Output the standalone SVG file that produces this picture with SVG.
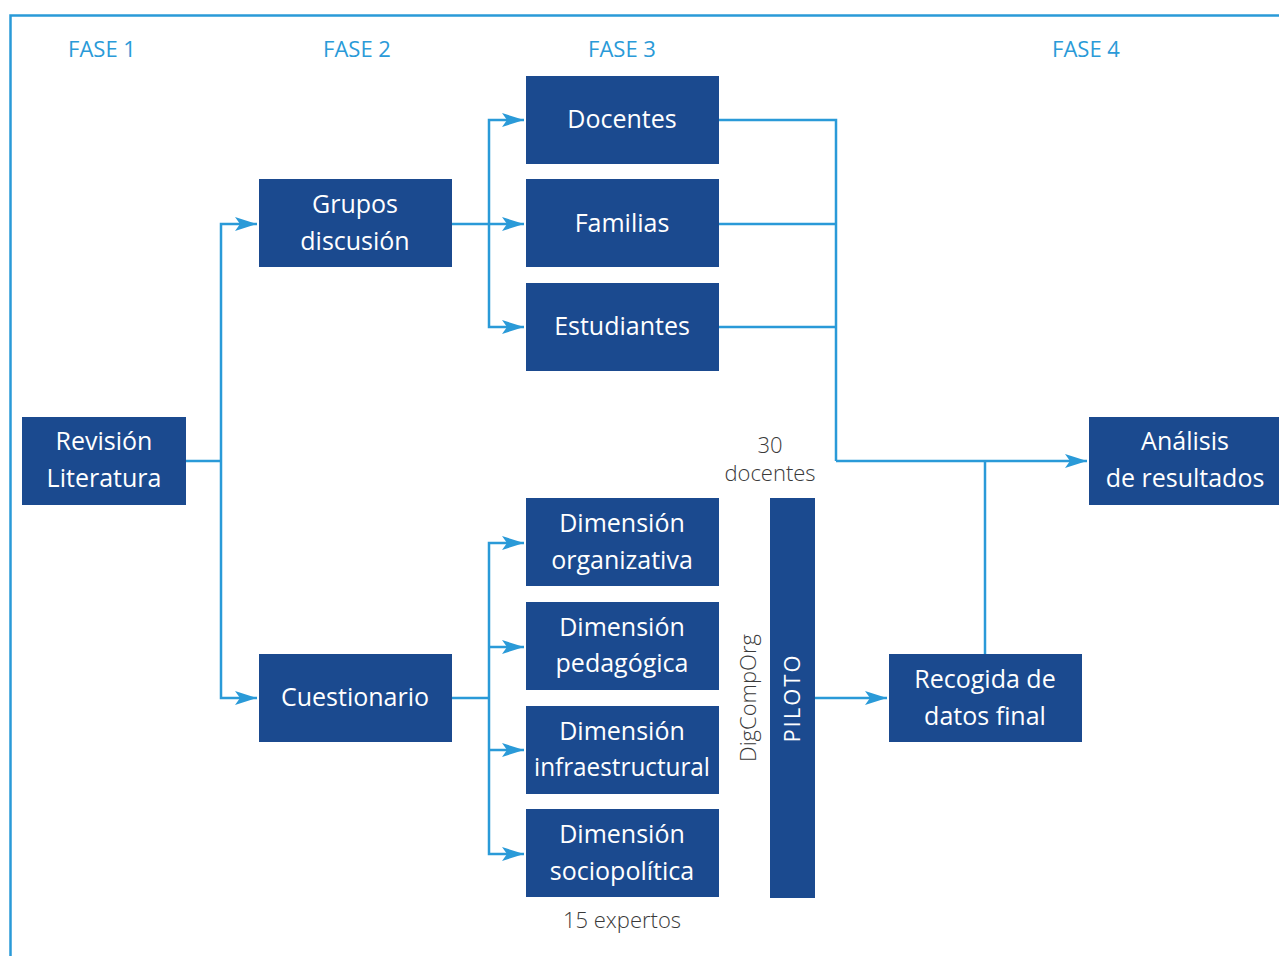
<svg xmlns="http://www.w3.org/2000/svg" width="1279" height="956" viewBox="0 0 1279 956">
<defs>
<marker id="arr" markerUnits="userSpaceOnUse" markerWidth="24" markerHeight="14" refX="22" refY="7" orient="auto">
<path d="M0,0 L22,7 L0,14 L5,7 Z" fill="#2a9ad8"/>
</marker>
<style>
.box{fill:#1b4a8f}
.t{font-family:"Open Sans","Liberation Sans",sans-serif;font-size:25px;font-weight:500;fill:#fff;text-anchor:middle}
.fase{font-family:"Open Sans","Liberation Sans",sans-serif;font-size:22px;font-weight:500;fill:#2a9ad8;text-anchor:middle}
.note{font-family:"Open Sans","Liberation Sans",sans-serif;font-size:22px;font-weight:300;fill:#3a3a3a;text-anchor:middle}
.c{fill:none;stroke:#2a9ad8;stroke-width:2.5}
</style>
</defs>
<rect width="1279" height="956" fill="#fff"/>
<path d="M10.5,956 V15.5 H1279" fill="none" stroke="#2a9ad8" stroke-width="2.5"/>
<g id="phases">
<text class="fase" x="102" y="57">FASE 1</text>
<text class="fase" x="357" y="57">FASE 2</text>
<text class="fase" x="622" y="57">FASE 3</text>
<text class="fase" x="1086" y="57">FASE 4</text>
</g>
<g id="connectors">
<path class="c" d="M186,461 H221"/>
<path class="c" d="M221,461 V224 H257" marker-end="url(#arr)"/>
<path class="c" d="M221,461 V698 H257" marker-end="url(#arr)"/>
<path class="c" d="M452,224 H524" marker-end="url(#arr)"/>
<path class="c" d="M489,224 V120 H524" marker-end="url(#arr)"/>
<path class="c" d="M489,224 V327 H524" marker-end="url(#arr)"/>
<path class="c" d="M452,698 H489"/>
<path class="c" d="M489,698 V543 H524" marker-end="url(#arr)"/>
<path class="c" d="M489,647 H524" marker-end="url(#arr)"/>
<path class="c" d="M489,698 V854 H524" marker-end="url(#arr)"/>
<path class="c" d="M489,750 H524" marker-end="url(#arr)"/>
<path class="c" d="M719,120 H836 V461"/>
<path class="c" d="M719,224 H836"/>
<path class="c" d="M719,327 H836"/>
<path class="c" d="M836,461 H1087" marker-end="url(#arr)"/>
<path class="c" d="M985,654 V461"/>
<path class="c" d="M815,698 H887" marker-end="url(#arr)"/>
</g>
<g id="revision"><rect class="box" x="22" y="417" width="164" height="88"/><text class="t" x="104" y="450">Revisión</text><text class="t" x="104" y="487">Literatura</text></g>
<g id="grupos"><rect class="box" x="259" y="179" width="193" height="88"/><text class="t" x="355" y="213">Grupos</text><text class="t" x="355" y="250">discusión</text></g>
<g id="cuestionario"><rect class="box" x="259" y="654" width="193" height="88"/><text class="t" x="355" y="706">Cuestionario</text></g>
<g id="docentes"><rect class="box" x="526" y="76" width="193" height="88"/><text class="t" x="622" y="128">Docentes</text></g>
<g id="familias"><rect class="box" x="526" y="179" width="193" height="88"/><text class="t" x="622" y="232">Familias</text></g>
<g id="estudiantes"><rect class="box" x="526" y="283" width="193" height="88"/><text class="t" x="622" y="335">Estudiantes</text></g>
<g id="dim-org"><rect class="box" x="526" y="498" width="193" height="88"/><text class="t" x="622" y="532">Dimensión</text><text class="t" x="622" y="569">organizativa</text></g>
<g id="dim-ped"><rect class="box" x="526" y="602" width="193" height="88"/><text class="t" x="622" y="636">Dimensión</text><text class="t" x="622" y="672">pedagógica</text></g>
<g id="dim-inf"><rect class="box" x="526" y="706" width="193" height="88"/><text class="t" x="622" y="740">Dimensión</text><text class="t" x="622" y="776" textLength="176" lengthAdjust="spacingAndGlyphs">infraestructural</text></g>
<g id="dim-soc"><rect class="box" x="526" y="809" width="193" height="88"/><text class="t" x="622" y="843">Dimensión</text><text class="t" x="622" y="880">sociopolítica</text></g>
<g id="piloto"><rect class="box" x="770" y="498" width="45" height="400"/><text class="t" transform="translate(800,698) rotate(-90)" x="0" y="0" style="font-size:22px;letter-spacing:2px">PILOTO</text></g>
<g id="recogida"><rect class="box" x="889" y="654" width="193" height="88"/><text class="t" x="985" y="688">Recogida de</text><text class="t" x="985" y="725">datos final</text></g>
<g id="analisis"><rect class="box" x="1089" y="417" width="190" height="88"/><text class="t" x="1185" y="450">Análisis</text><text class="t" x="1185" y="487">de resultados</text></g>
<g id="notes">
<text class="note" x="770" y="453">30</text>
<text class="note" x="770" y="481">docentes</text>
<text class="note" x="622" y="928">15 expertos</text>
<text class="note" transform="translate(756,698) rotate(-90)" x="0" y="0">DigCompOrg</text>
</g>
</svg>
